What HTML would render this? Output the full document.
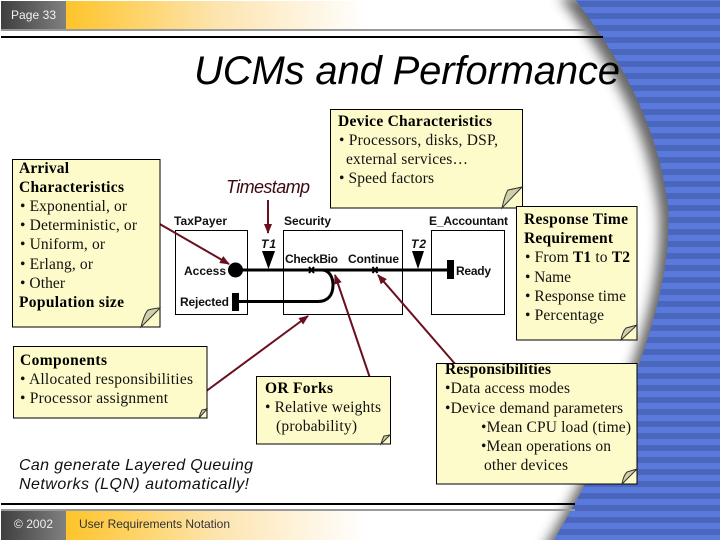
<!DOCTYPE html>
<html><head><meta charset="utf-8"><style>
html,body{margin:0;padding:0;background:#fff;width:720px;height:540px;overflow:hidden}
svg{display:block;overflow:hidden}
.n{font-family:"Liberation Serif",serif;font-size:15.5px;fill:#111}
.b{font-weight:bold;fill:#000}
.l{font-family:"Liberation Sans",sans-serif;font-size:12px;font-weight:bold;fill:#111}
.note{fill:#fdfbc9;stroke:#000;stroke-width:1}
.fold{fill:#cfcfa8;stroke:#333;stroke-width:1}
.ar{stroke:#6a0f20;stroke-width:2;fill:none;marker-end:url(#ah)}
</style></head><body>
<svg width="720" height="540" viewBox="0 0 720 540" xmlns="http://www.w3.org/2000/svg">
<defs>
<linearGradient id="gb" x1="0" x2="1" y1="0" y2="0"><stop offset="0" stop-color="#3f3f3f"/><stop offset="1" stop-color="#808080"/></linearGradient>
<linearGradient id="go" x1="0" x2="1" y1="0" y2="0"><stop offset="0" stop-color="#fec42a"/><stop offset=".5" stop-color="#fde4ae"/><stop offset="1" stop-color="#ffffff"/></linearGradient>
<pattern id="st" width="12" height="12" patternUnits="userSpaceOnUse"><rect width="12" height="12" fill="#4a66bd"/><rect y="7" width="12" height="6" fill="#5a7adb"/><rect y="0" width="12" height="1" fill="#5a7adb"/></pattern>
<filter id="bl" x="-30%" y="-10%" width="160%" height="120%"><feGaussianBlur stdDeviation="6"/></filter>
<clipPath id="pg"><rect width="720" height="540"/></clipPath>
<marker id="ah" markerUnits="userSpaceOnUse" markerWidth="10" markerHeight="10" refX="9" refY="4" orient="auto"><path d="M0 0L10 4L0 8z" fill="#6a0f20"/></marker>
</defs>
<rect width="720" height="540" fill="#fff"/>
<g clip-path="url(#pg)">
<path d="M568 -10C610 45 655 110 668 205C675 300 620 430 548 550L730 550L730 -10Z" fill="#555" filter="url(#bl)" transform="translate(-9,6)" opacity=".9"/>
<path d="M568 -10C610 45 655 110 668 205C675 300 620 430 548 550L730 550L730 -10Z" fill="url(#st)"/>
</g>

<!-- header -->
<rect x="66" y="1" width="300" height="28" fill="url(#go)"/>
<rect x="1" y="1" width="65" height="29" fill="url(#gb)"/>
<rect x="1" y="29" width="585" height="2" fill="#999"/>
<rect x="1" y="36" width="602" height="2" fill="#000"/>
<text x="11" y="19" font-family="Liberation Sans" font-size="12" fill="#f2f2f2" textLength="45">Page 33</text>
<text x="194" y="84" font-family="Liberation Sans" font-size="40" font-style="italic" fill="#000" textLength="426">UCMs and Performance</text>

<!-- footer -->
<rect x="1" y="503" width="574" height="2" fill="#000"/>
<rect x="1" y="509" width="574" height="2" fill="#999"/>
<rect x="66" y="511" width="300" height="29" fill="url(#go)"/>
<rect x="1" y="511" width="65" height="29" fill="url(#gb)"/>
<text x="14" y="528" font-family="Liberation Sans" font-size="12" fill="#eee" textLength="39">© 2002</text>
<text x="79" y="528" font-family="Liberation Sans" font-size="12" fill="#333" textLength="151">User Requirements Notation</text>

<!-- diagram boxes -->
<g fill="#fff" stroke="#000" stroke-width="1">
<rect x="175.5" y="230.5" width="72" height="84"/>
<rect x="283.5" y="230.5" width="119" height="84"/>
<rect x="431.5" y="230.5" width="73" height="84"/>
</g>
<text class="l" x="174" y="225" textLength="53">TaxPayer</text>
<text class="l" x="284" y="225" textLength="47">Security</text>
<text class="l" x="429" y="225" textLength="79">E_Accountant</text>
<text class="l" x="285" y="263" textLength="53">CheckBio</text>
<text class="l" x="348" y="263" textLength="51">Continue</text>
<text class="l" x="184" y="275" textLength="42">Access</text>
<text class="l" x="180" y="306" textLength="49">Rejected</text>
<text class="l" x="456" y="275" textLength="35">Ready</text>
<text class="l" x="261" y="248" font-style="italic" textLength="15">T1</text>
<text class="l" x="411" y="248" font-style="italic" textLength="15">T2</text>
<path d="M236 270H450" stroke="#000" stroke-width="3" fill="none"/>
<path d="M322 270C329 270 333 277 333 285C333 295 328 301.500 318 301.500H236" stroke="#000" stroke-width="3" fill="none"/>
<circle cx="235.500" cy="270" r="7.500" fill="#000"/>
<rect x="232" y="293" width="7" height="18" fill="#000"/>
<rect x="447" y="260" width="7" height="19" fill="#000"/>
<path d="M262 251H275L268.500 269Z M412 251H424L418 269Z" fill="#000"/>
<path d="M309 267L314 273M314 267L309 273M372.500 267L377.500 273M377.500 267L372.500 273" stroke="#000" stroke-width="2"/>

<!-- arrows -->
<text x="226" y="193" font-family="Liberation Sans" font-size="18" font-style="italic" fill="#3d0a14" textLength="84">Timestamp</text>
<path class="ar" d="M268 200V233"/>
<path class="ar" d="M158 223L229 264"/>
<path class="ar" d="M205 392L308 316"/>
<path class="ar" d="M370 378L335 275"/>
<path class="ar" d="M456 365L378 275"/>

<!-- Arrival -->
<rect class="note" x="12.500" y="159.500" width="147.500" height="167.500"/>
<path class="fold" d="M160 308L141 327C143 318 146 312 148 310C152 309 156 308 160 308Z"/>
<text class="n b" x="19" y="173" textLength="50">Arrival</text>
<text class="n b" x="19" y="192" textLength="105">Characteristics</text>
<text class="n" x="20" y="211" textLength="107">• Exponential, or</text>
<text class="n" x="20" y="230" textLength="117">• Deterministic, or</text>
<text class="n" x="20" y="249" textLength="85">• Uniform, or</text>
<text class="n" x="20" y="269" textLength="73">• Erlang, or</text>
<text class="n" x="20" y="288" textLength="45">• Other</text>
<text class="n b" x="19" y="307" textLength="105">Population size</text>

<!-- Components -->
<rect class="note" x="13.500" y="346.500" width="193.500" height="71.500"/>
<path class="fold" d="M207 409L199 418C200 414 201 412 202 410C204 410 205 409 207 409Z"/>
<text class="n b" x="20" y="365" textLength="87">Components</text>
<text class="n" x="20" y="384" textLength="173">• Allocated responsibilities</text>
<text class="n" x="20" y="403" textLength="148">• Processor assignment</text>

<!-- OR -->
<rect class="note" x="256.500" y="376.500" width="134" height="67.500"/>
<path class="fold" d="M390 435L381 444C382 440 383 438 384 436C386 436 388 435 390 435Z"/>
<text class="n b" x="265" y="393" textLength="68">OR Forks</text>
<text class="n" x="265" y="412" textLength="116">• Relative weights</text>
<text class="n" x="276" y="431" textLength="81">(probability)</text>

<!-- Device -->
<rect class="note" x="330.500" y="109.500" width="192" height="98.500"/>
<path class="fold" d="M522 187L502 208C504 199 506 193 508 190C513 189 518 188 522 187Z"/>
<text class="n b" x="338" y="126" textLength="154">Device Characteristics</text>
<text class="n" x="339" y="145" textLength="159">• Processors, disks, DSP,</text>
<text class="n" x="346" y="164" textLength="122">external services…</text>
<text class="n" x="339" y="183" textLength="95">• Speed factors</text>

<!-- Response -->
<rect class="note" x="516.500" y="206.500" width="120.500" height="133.500"/>
<path class="fold" d="M637 325L621 340C622 334 624 330 626 328C630 327 634 326 637 325Z"/>
<text class="n b" x="524" y="224" textLength="104">Response Time</text>
<text class="n b" x="524" y="243" textLength="89">Requirement</text>
<text class="n" x="525" y="262" textLength="105">• From <tspan class="b">T1</tspan> to <tspan class="b">T2</tspan></text>
<text class="n" x="525" y="282" textLength="46">• Name</text>
<text class="n" x="525" y="301" textLength="101">• Response time</text>
<text class="n" x="525" y="320" textLength="79">• Percentage</text>

<!-- Responsibilities -->
<rect class="note" x="436.500" y="363.500" width="200.500" height="120.500"/>
<path class="fold" d="M637 469L622 484C623 478 625 474 627 472C630 471 634 470 637 469Z"/>
<text class="n b" x="445" y="374" textLength="106">Responsibilities</text>
<text class="n" x="445" y="393" textLength="125">•Data access modes</text>
<text class="n" x="445" y="413" textLength="178">•Device demand parameters</text>
<text class="n" x="481" y="432" textLength="150">•Mean CPU load (time)</text>
<text class="n" x="481" y="451" textLength="130">•Mean operations on</text>
<text class="n" x="484" y="470" textLength="84">other devices</text>

<!-- LQN -->
<text x="19" y="470" font-family="Liberation Sans" font-size="16" font-style="italic" fill="#111" textLength="234">Can generate Layered Queuing</text>
<text x="19" y="489" font-family="Liberation Sans" font-size="16" font-style="italic" fill="#111" textLength="230">Networks (LQN) automatically!</text>
</svg>
</body></html>
